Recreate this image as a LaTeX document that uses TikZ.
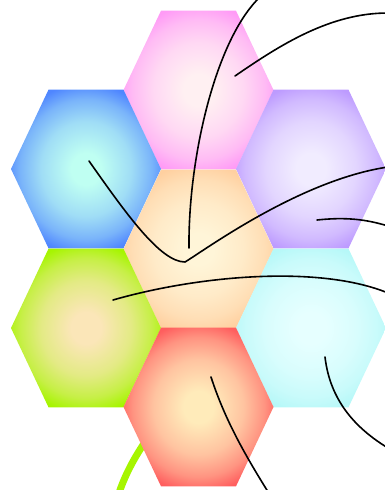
\documentclass[tikz,border=0pt]{standalone}
\usetikzlibrary{calc}

% radial glow, reaches the outer colour at the hexagon's rim
\pgfdeclareradialshading[hexin,hexout]{hexglow}{\pgfpoint{0bp}{0bp}}{%
  color(0bp)=(hexin); color(5bp)=(hexin); color(15bp)=(hexin!72!hexout);
  color(22bp)=(hexin!38!hexout); color(27bp)=(hexout); color(50bp)=(hexout)}

\definecolor{pinkC}{HTML}{FFF0F2}  \definecolor{pinkE}{HTML}{FF9BF6}
\definecolor{blueC}{HTML}{BFFFF2}  \definecolor{blueE}{HTML}{4F86FF}
\definecolor{lilacC}{HTML}{F1ECFF} \definecolor{lilacE}{HTML}{BD9BFF}
\definecolor{peachC}{HTML}{FFF5D8} \definecolor{peachE}{HTML}{FFD0A0}
\definecolor{limeC}{HTML}{FBE6B8}  \definecolor{limeE}{HTML}{A6F500}
\definecolor{aquaC}{HTML}{E6FFFF}  \definecolor{aquaE}{HTML}{B6F8F8}
\definecolor{redC}{HTML}{FFEBBA}   \definecolor{redE}{HTML}{FF5E5E}
\colorlet{hexin}{white}\colorlet{hexout}{white}

\begin{document}
\begin{tikzpicture}[
  x=1pt, y=-1pt,
  wire/.style={black, line width=1.6pt, line cap=round},
  stem/.style={color=limeE, line width=7pt},
]
  \useasboundingbox (0,0) rectangle (385,490);

  \def\hr{75}     % half width of a cell
  \def\hh{79.3}   % half height of a cell
  \def\hs{37.5}   % half of the top edge

  % --- green stem, behind the cells ---
  \draw[stem] (152,432) .. controls (136,454) and (125,474) .. (118,496);

  % --- honeycomb ---
  \foreach \cx/\cy/\ci/\co/\nm in {
      198.5/90/pinkC/pinkE/pinkcell,
      86/169/blueC/blueE/bluecell,
      311/169/lilacC/lilacE/lilaccell,
      198.5/249/peachC/peachE/peachcell,
      86/328/limeC/limeE/limecell,
      311/328/aquaC/aquaE/aquacell,
      198.5/407/redC/redE/redcell}
  {
    \colorlet{hexin}{\ci}\colorlet{hexout}{\co}
    \shade[shading=hexglow]
      (\cx+\hr,\cy) -- (\cx+\hs,\cy-\hh) -- (\cx-\hs,\cy-\hh)
      -- (\cx-\hr,\cy) -- (\cx-\hs,\cy+\hh) -- (\cx+\hs,\cy+\hh) -- cycle;
    \coordinate (\nm) at (\cx,\cy);
  }

  % --- wire ends ---
  \coordinate (pinkend)  at (235,76);
  \coordinate (blueend)  at (89,161);
  \coordinate (peachend) at (189,248);
  \coordinate (bend)     at (185,262);
  \coordinate (lilacend) at (317,220);
  \coordinate (limeend)  at (113,300);
  \coordinate (aquaend)  at (325,357);
  \coordinate (redend)   at (211,377);

  \coordinate (outA) at (388,13);
  \coordinate (outB) at (260,-3);
  \coordinate (outC) at (388,167);
  \coordinate (outD) at (388,226);
  \coordinate (outE) at (388,293);
  \coordinate (outF) at (388,448);
  \coordinate (outG) at (270,495);

  % --- wires ---
  \draw[wire] (pinkend) .. controls (280,45) and (330,13) .. (outA);
  \draw[wire] (outB) .. controls (215,40) and (188,160) .. (peachend);
  \draw[wire] (blueend) .. controls (125,212) and (160,262) .. (bend)
    .. controls (205,250) and (300,180) .. (outC);
  \draw[wire] (lilacend) .. controls (345,217) and (365,219) .. (outD);
  \draw[wire] (limeend) .. controls (200,275) and (320,265) .. (outE);
  \draw[wire] (aquaend) .. controls (330,400) and (355,428) .. (outF);
  \draw[wire] (redend) .. controls (225,420) and (245,455) .. (outG);

\end{tikzpicture}
\end{document}
